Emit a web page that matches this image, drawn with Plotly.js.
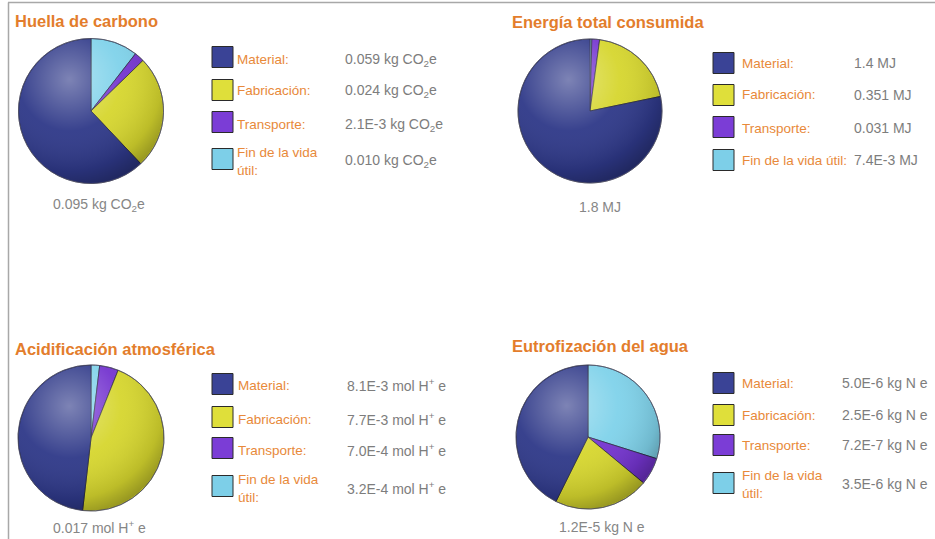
<!DOCTYPE html>
<html>
<head>
<meta charset="utf-8">
<script src="https://cdn.plot.ly/plotly-3.0.1.min.js"></script>
<style>
  html, body { margin: 0; padding: 0; background: #ffffff; }
  #chart { width: 935px; height: 539px; }
</style>
</head>
<body>
<div id="chart"></div>
<script>
// ---------------- DATA ----------------
const categories = ['Material', 'Fabricación', 'Transporte', 'Fin de la vida útil'];

const titles = ['Huella de carbono', 'Energía total consumida', 'Acidificación atmosférica', 'Eutrofización del agua'];

const carbonValues = [0.059, 0.024, 0.0021, 0.010];
const energyValues = [1.4, 0.351, 0.031, 0.0074];
const acidValues   = [0.0081, 0.0077, 0.00070, 0.00032];
const eutroValues  = [5.0e-6, 2.5e-6, 7.2e-7, 3.5e-6];

const carbonLabels = ['0.059 kg CO<sub>2</sub>e', '0.024 kg CO<sub>2</sub>e', '2.1E-3 kg CO<sub>2</sub>e', '0.010 kg CO<sub>2</sub>e'];
const energyLabels = ['1.4 MJ', '0.351 MJ', '0.031 MJ', '7.4E-3 MJ'];
const acidLabels   = ['8.1E-3 mol H<sup>+</sup> e', '7.7E-3 mol H<sup>+</sup> e', '7.0E-4 mol H<sup>+</sup> e', '3.2E-4 mol H<sup>+</sup> e'];
const eutroLabels  = ['5.0E-6 kg N e', '2.5E-6 kg N e', '7.2E-7 kg N e', '3.5E-6 kg N e'];

const totalLabels = ['0.095 kg CO<sub>2</sub>e', '1.8 MJ', '0.017 mol H<sup>+</sup> e', '1.2E-5 kg N e'];

// ---------------- STYLE / LAYOUT ----------------
const W = 935, H = 539;
const px = x => x / W;
const py = y => 1 - y / H;

const sliceColors  = ['#2e3888', '#d6d62e', '#7434cf', '#7fd2ea'];
const squareColors = ['#3a4396', '#dfdf3a', '#7b3dd6', '#7dcfe8'];
const orange = '#e8893a';
const titleOrange = '#e37d2c';
const gray = '#7d7d7d';
const FONT = 'Liberation Sans, Arial, Helvetica, sans-serif';

const panels = [
  { values: carbonValues, labels: carbonLabels, cx: 91, cy: 111, r: 72.5,
    title: [13, 21], total: [99, 205], sqX: 212, labX: 235, valX: 343,
    sqY: [57, 90, 122, 159], txtY: [60, 91, 125, 161], wrap: true },
  { values: energyValues, labels: energyLabels, cx: 590, cy: 111, r: 72,
    title: [510, 22], total: [600, 207], sqX: 713, labX: 740, valX: 852,
    sqY: [63, 95, 127, 160], txtY: [63, 95, 128, 160], wrap: false },
  { values: acidValues, labels: acidLabels, cx: 91, cy: 438, r: 73,
    title: [13, 349], total: [99, 527], sqX: 212, labX: 236, valX: 345,
    sqY: [384, 417, 448, 486], txtY: [385, 419, 450, 488], wrap: true },
  { values: eutroValues, labels: eutroLabels, cx: 588, cy: 437, r: 72,
    title: [510, 346], total: [602, 527], sqX: 713, labX: 740, valX: 840,
    sqY: [383, 415, 445, 483], txtY: [383, 415, 445, 484], wrap: true }
];

const traces = [];
const annotations = [];
const shapes = [];
const images = [];

const glossSvg = 'data:image/svg+xml;utf8,' + encodeURIComponent(
  '<svg xmlns="http://www.w3.org/2000/svg" width="200" height="200" viewBox="0 0 200 200">' +
  '<defs><radialGradient id="g" cx="35%" cy="28%" r="80%">' +
  '<stop offset="0" stop-color="#ffffff" stop-opacity="0.38"/>' +
  '<stop offset="0.45" stop-color="#ffffff" stop-opacity="0.05"/>' +
  '<stop offset="0.8" stop-color="#000000" stop-opacity="0.12"/>' +
  '<stop offset="1" stop-color="#000000" stop-opacity="0.35"/>' +
  '</radialGradient></defs>' +
  '<circle cx="100" cy="100" r="99" fill="url(#g)"/></svg>');

panels.forEach((p, i) => {
  // slices run counter-clockwise from 12 o'clock in the reference:
  // feed them reversed with a clockwise direction
  traces.push({
    type: 'pie',
    values: p.values.slice().reverse(),
    labels: categories.slice().reverse(),
    sort: false,
    direction: 'clockwise',
    rotation: 0,
    textinfo: 'none',
    hoverinfo: 'label+value',
    showlegend: false,
    marker: { colors: sliceColors.slice().reverse(), line: { color: 'rgba(30,30,50,0.7)', width: 1 } },
    domain: { x: [px(p.cx - p.r), px(p.cx + p.r)], y: [py(p.cy + p.r), py(p.cy - p.r)] }
  });

  images.push({
    source: glossSvg, xref: 'paper', yref: 'paper',
    x: px(p.cx - p.r), y: py(p.cy - p.r),
    sizex: (2 * p.r) / W, sizey: (2 * p.r) / H,
    sizing: 'stretch', xanchor: 'left', yanchor: 'top', layer: 'above'
  });

  // outer rim
  shapes.push({
    type: 'circle', xref: 'paper', yref: 'paper',
    x0: px(p.cx - p.r), x1: px(p.cx + p.r), y0: py(p.cy + p.r), y1: py(p.cy - p.r),
    line: { color: 'rgba(90,90,110,0.6)', width: 1 }, fillcolor: 'rgba(0,0,0,0)'
  });

  annotations.push({
    text: '<b>' + titles[i] + '</b>', xref: 'paper', yref: 'paper',
    x: px(p.title[0]), y: py(p.title[1]), xanchor: 'left', yanchor: 'middle',
    showarrow: false, font: { family: FONT, size: 16.5, color: titleOrange }
  });

  annotations.push({
    text: totalLabels[i], xref: 'paper', yref: 'paper',
    x: px(p.total[0]), y: py(p.total[1]), xanchor: 'center', yanchor: 'middle',
    showarrow: false, font: { family: FONT, size: 14, color: '#868686' }
  });

  categories.forEach((c, k) => {
    const s = 10.5;
    shapes.push({
      type: 'rect', xref: 'paper', yref: 'paper',
      x0: px(p.sqX), x1: px(p.sqX + 21),
      y0: py(p.sqY[k] + s), y1: py(p.sqY[k] - s),
      fillcolor: squareColors[k], line: { color: '#2a2a2a', width: 1 }
    });
    let lab = c + ':';
    if (k === 3 && p.wrap) lab = 'Fin de la vida<br>útil:';
    annotations.push({
      text: lab, xref: 'paper', yref: 'paper',
      x: px(p.labX), y: py(p.txtY[k]), xanchor: 'left', yanchor: 'middle', align: 'left',
      showarrow: false, font: { family: FONT, size: 13.5, color: orange }
    });
    annotations.push({
      text: p.labels[k], xref: 'paper', yref: 'paper',
      x: px(p.valX), y: py(p.txtY[k]), xanchor: 'left', yanchor: 'middle', align: 'left',
      showarrow: false, font: { family: FONT, size: 14, color: gray }
    });
  });
});

// frame lines
shapes.push({ type: 'line', xref: 'paper', yref: 'paper', x0: px(8), x1: px(935), y0: py(2.5), y1: py(2.5),
  line: { color: '#a8a8a8', width: 1.5 } });
shapes.push({ type: 'line', xref: 'paper', yref: 'paper', x0: px(8.5), x1: px(8.5), y0: py(2.5), y1: 0,
  line: { color: '#a8a8a8', width: 1.5 } });

const layout = {
  width: W, height: H,
  margin: { l: 0, r: 0, t: 0, b: 0 },
  paper_bgcolor: '#ffffff',
  plot_bgcolor: '#ffffff',
  showlegend: false,
  annotations: annotations,
  shapes: shapes,
  images: images
};

Plotly.newPlot('chart', traces, layout, { displayModeBar: false, staticPlot: true });
</script>
</body>
</html>
